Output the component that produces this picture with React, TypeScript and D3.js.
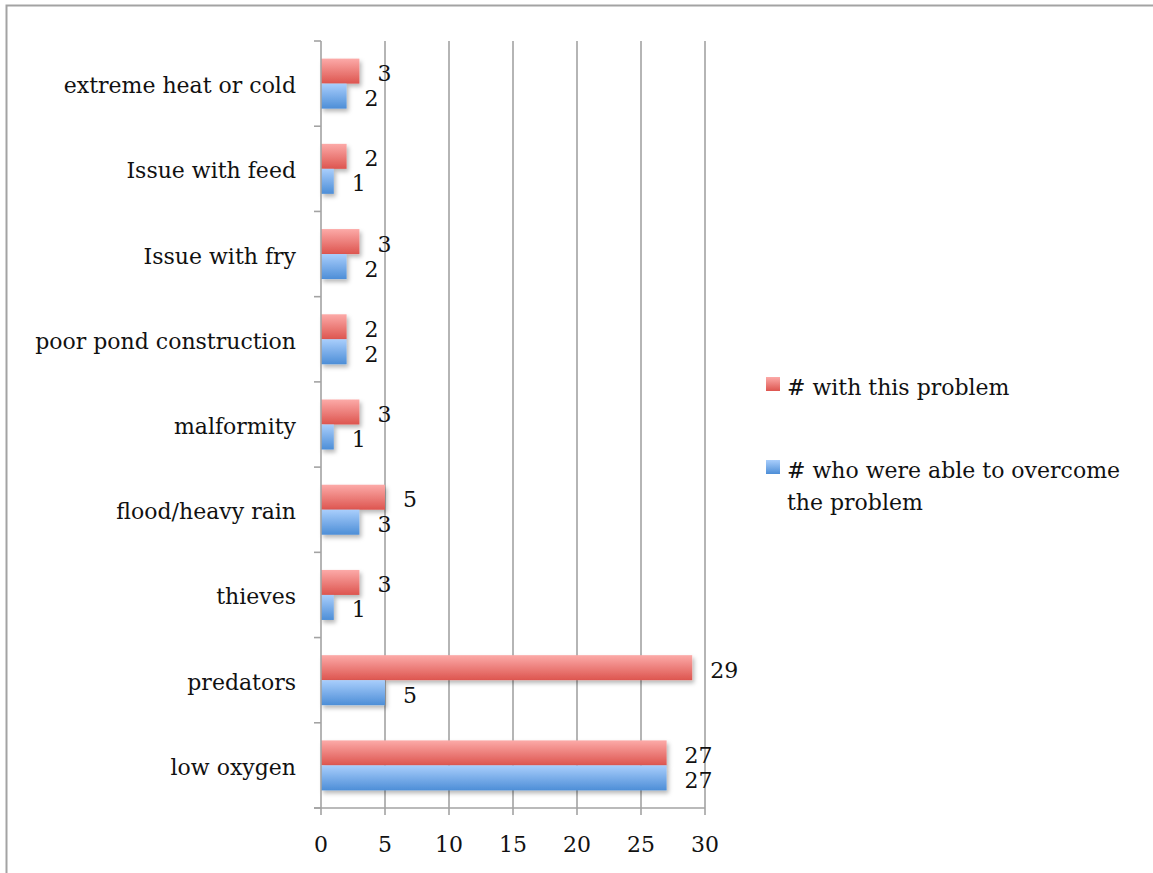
import React from "react";
import * as d3 from "d3";

// Problems reported by pond farmers, and how many overcame each one
const categories = [
  "extreme heat or cold",
  "Issue with feed",
  "Issue with fry",
  "poor pond construction",
  "malformity",
  "flood/heavy rain",
  "thieves",
  "predators",
  "low oxygen",
];
const withProblem = [3, 2, 3, 2, 3, 5, 3, 29, 27];
const overcame = [2, 1, 2, 2, 1, 3, 1, 5, 27];
const seriesNames = ["# with this problem", "# who were able to overcome the problem"];
const xTicks = [0, 5, 10, 15, 20, 25, 30];

const W = 1153;
const H = 873;
const FONT = "'DejaVu Serif', serif";
const GRID = "#a3a3a3";

export default function App() {
  const x = d3.scaleLinear().domain([0, 30]).range([321, 705]);
  const y = d3.scaleBand<string>().domain(categories).range([41, 808]);
  const inner = d3.scaleBand<string>().domain(["red", "blue"]).range([0, 50]);
  const bw = inner.bandwidth();
  const center = (c: string) => (y(c) as number) + y.bandwidth() / 2;

  const series = [
    { key: "red", values: withProblem, grad: "url(#gRed)" },
    { key: "blue", values: overcame, grad: "url(#gBlue)" },
  ];

  const boundaries = d3.range(categories.length + 1).map((i) => 41 + i * y.step());

  return (
    <svg
      width={W}
      height={H}
      style={{ position: "absolute", left: 0, top: 0, background: "#fff" }}
      fontFamily={FONT}
    >
      <defs>
        <linearGradient id="gRed" x1="0" y1="0" x2="0" y2="1">
          <stop offset="0" stopColor="#fcaaa8" />
          <stop offset="1" stopColor="#dd554f" />
        </linearGradient>
        <linearGradient id="gBlue" x1="0" y1="0" x2="0" y2="1">
          <stop offset="0" stopColor="#a9cefc" />
          <stop offset="1" stopColor="#4d8ed7" />
        </linearGradient>
        <filter id="shadow" x="-10%" y="-30%" width="130%" height="180%">
          <feDropShadow dx="2" dy="3" stdDeviation="2" floodColor="#000" floodOpacity="0.28" />
        </filter>
      </defs>

      {/* outer frame */}
      <rect x={6.5} y={5.5} width={W + 10} height={H + 10} fill="none" stroke={GRID} strokeWidth={2} />

      {/* vertical gridlines */}
      {xTicks.slice(1).map((t) => (
        <line key={t} x1={x(t)} x2={x(t)} y1={41} y2={808} stroke={GRID} strokeWidth={1.6} />
      ))}

      {/* bars */}
      {series.map((s) => (
        <g key={s.key} filter="url(#shadow)">
          {categories.map((c, i) => (
            <rect
              key={c}
              x={x(0)}
              y={center(c) - 25 + (inner(s.key) as number)}
              width={x(s.values[i]) - x(0)}
              height={bw}
              fill={s.grad}
            />
          ))}
        </g>
      ))}

      {/* value labels */}
      {series.map((s) =>
        categories.map((c, i) => (
          <text
            key={s.key + c}
            x={x(s.values[i]) + 18}
            y={center(c) - 25 + (inner(s.key) as number) + bw / 2 + 10}
            fontSize={22}
            fill="#111"
          >
            {s.values[i]}
          </text>
        ))
      )}

      {/* axes */}
      <line x1={x(0)} x2={x(0)} y1={41} y2={808} stroke={GRID} strokeWidth={1.6} />
      <line x1={314} x2={x(30)} y1={808} y2={808} stroke={GRID} strokeWidth={1.6} />
      {boundaries.map((b, i) => (
        <line key={i} x1={314} x2={x(0)} y1={b} y2={b} stroke={GRID} strokeWidth={1.6} />
      ))}
      {xTicks.map((t) => (
        <g key={t}>
          <line x1={x(t)} x2={x(t)} y1={808} y2={815} stroke={GRID} strokeWidth={1.6} />
          <text x={x(t)} y={852} textAnchor="middle" fontSize={22} fill="#111">
            {t}
          </text>
        </g>
      ))}
      {categories.map((c) => (
        <text key={c} x={296} y={center(c) + 9.5} textAnchor="end" fontSize={22} fill="#111">
          {c}
        </text>
      ))}

      {/* legend */}
      <rect x={766} y={377} width={14} height={14} fill="url(#gRed)" />
      <text x={787} y={395} fontSize={22} fill="#111">
        {seriesNames[0]}
      </text>
      <rect x={766} y={460} width={14} height={14} fill="url(#gBlue)" />
      <text x={787} y={478} fontSize={22} fill="#111">
        <tspan x={787}>{"# who were able to overcome"}</tspan>
        <tspan x={787} dy={32}>
          {"the problem"}
        </tspan>
      </text>
    </svg>
  );
}
